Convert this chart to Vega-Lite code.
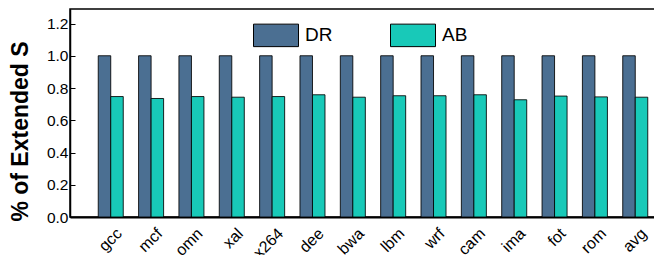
{
  "$schema": "https://vega.github.io/schema/vega-lite/v6.json",
  "autosize": "none",
  "padding": {"left": 70, "top": 9, "right": 0, "bottom": 38},
  "width": 606,
  "height": 208,
  "background": "white",
  "config": {
    "font": "Liberation Sans",
    "view": {"stroke": "black", "strokeWidth": 1.5}
  },
  "data": {
    "values": [
      {"bench": "gcc", "series": "DR", "value": 1.0},
      {"bench": "gcc", "series": "AB", "value": 0.747},
      {"bench": "mcf", "series": "DR", "value": 1.0},
      {"bench": "mcf", "series": "AB", "value": 0.735},
      {"bench": "omn", "series": "DR", "value": 1.0},
      {"bench": "omn", "series": "AB", "value": 0.747},
      {"bench": "xal", "series": "DR", "value": 1.0},
      {"bench": "xal", "series": "AB", "value": 0.743},
      {"bench": "x264", "series": "DR", "value": 1.0},
      {"bench": "x264", "series": "AB", "value": 0.747},
      {"bench": "dee", "series": "DR", "value": 1.0},
      {"bench": "dee", "series": "AB", "value": 0.758},
      {"bench": "bwa", "series": "DR", "value": 1.0},
      {"bench": "bwa", "series": "AB", "value": 0.743},
      {"bench": "lbm", "series": "DR", "value": 1.0},
      {"bench": "lbm", "series": "AB", "value": 0.752},
      {"bench": "wrf", "series": "DR", "value": 1.0},
      {"bench": "wrf", "series": "AB", "value": 0.752},
      {"bench": "cam", "series": "DR", "value": 1.0},
      {"bench": "cam", "series": "AB", "value": 0.758},
      {"bench": "ima", "series": "DR", "value": 1.0},
      {"bench": "ima", "series": "AB", "value": 0.727},
      {"bench": "fot", "series": "DR", "value": 1.0},
      {"bench": "fot", "series": "AB", "value": 0.75},
      {"bench": "rom", "series": "DR", "value": 1.0},
      {"bench": "rom", "series": "AB", "value": 0.745},
      {"bench": "avg", "series": "DR", "value": 1.0},
      {"bench": "avg", "series": "AB", "value": 0.743}
    ]
  },
  "mark": {"type": "bar", "stroke": "black", "strokeWidth": 1, "strokeOpacity": 0.85},
  "encoding": {
    "x": {
      "field": "bench",
      "type": "nominal",
      "sort": null,
      "scale": {"paddingInner": 0.38, "paddingOuter": 0.7},
      "axis": {
        "title": null,
        "labelAngle": -45,
        "labelFontSize": 16,
        "labelColor": "black",
        "ticks": false,
        "labelPadding": 8,
        "labelOffset": 3,
        "domainColor": "black",
        "domainWidth": 2
      }
    },
    "xOffset": {
      "field": "series",
      "type": "nominal",
      "sort": ["DR", "AB"],
      "scale": {"paddingInner": 0, "paddingOuter": 0}
    },
    "y": {
      "field": "value",
      "type": "quantitative",
      "scale": {"domain": [0, 1.29], "nice": false},
      "axis": {
        "title": "% of Extended S",
        "titleFontSize": 23,
        "titleFontWeight": "bold",
        "titleColor": "black",
        "titleY": 122,
        "titleX": -43,
        "titleBaseline": "alphabetic",
        "values": [0, 0.2, 0.4, 0.6, 0.8, 1.0, 1.2],
        "format": ".1f",
        "labelFontSize": 15.5,
        "labelColor": "black",
        "tickSize": -5,
        "tickColor": "black",
        "labelPadding": 7,
        "domainColor": "black",
        "domainWidth": 1.5,
        "grid": false
      }
    },
    "color": {
      "field": "series",
      "type": "nominal",
      "sort": ["DR", "AB"],
      "scale": {"domain": ["DR", "AB"], "range": ["#4b6f92", "#18c9b8"]},
      "legend": {
        "title": null,
        "orient": "none",
        "direction": "horizontal",
        "legendX": 183,
        "legendY": 3,
        "symbolType": "M-1,-0.5H1V0.5H-1Z",
        "symbolSize": 2025,
        "symbolStrokeColor": "black",
        "symbolStrokeWidth": 1,
        "symbolOpacity": 1,
        "labelFontSize": 19,
        "labelColor": "black",
        "labelOffset": 6,
        "columnPadding": 55
      }
    }
  }
}
